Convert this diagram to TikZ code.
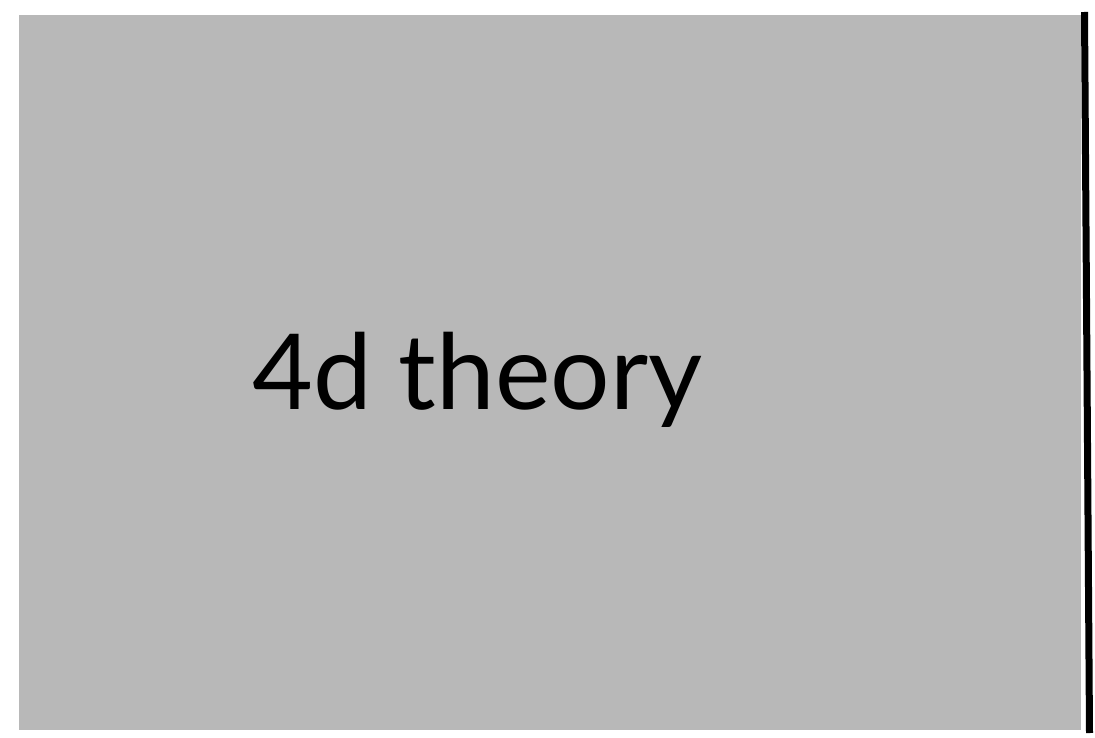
\documentclass[tikz,border=0pt]{standalone}
\usepackage{fontspec}
\setmainfont{Lato}
\usepackage{tikz}
\usetikzlibrary{positioning}
\definecolor{panel}{RGB}{184, 184, 184}

\begin{document}
\begin{tikzpicture}[x=1pt,y=-1pt]
            \useasboundingbox (0,0) rectangle (1095,738);
            \fill[panel] (19,15) rectangle (1081,730);
            \coordinate (top) at (1084.5,12);
            \coordinate (bot) at (1089.5,733);
            \draw[line width=7pt] (top) -- (bot);
            \node[anchor=base west, inner sep=0pt, font=\fontsize{105}{120}\selectfont] (label) at (252,409) {4d theory};
          \end{tikzpicture}
\end{document}
